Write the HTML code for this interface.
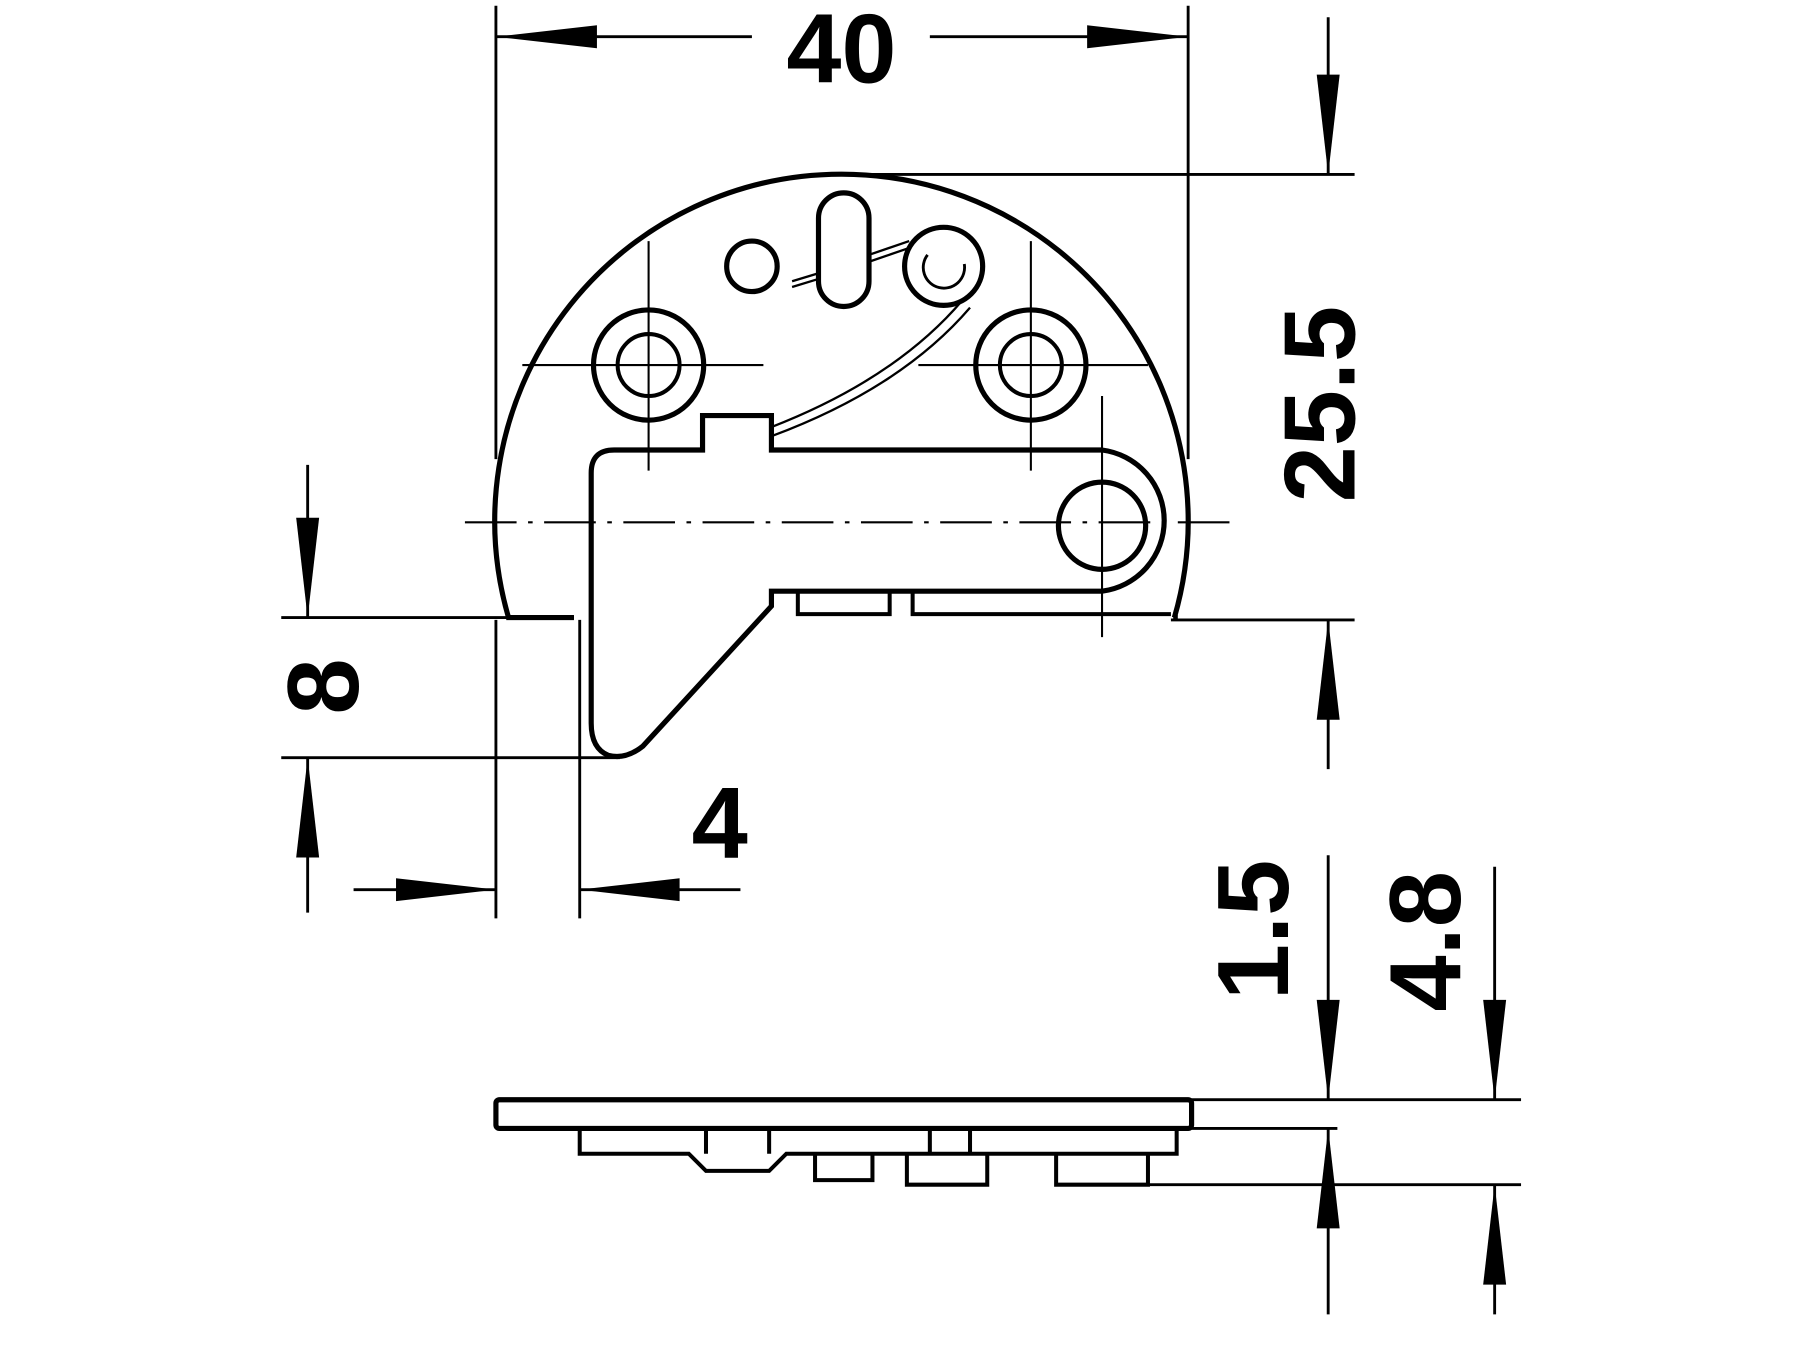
<!DOCTYPE html>
<html><head><meta charset="utf-8"><style>
html,body{margin:0;padding:0;background:#fff;width:1800px;height:1350px;overflow:hidden}
svg{display:block}
text{font-family:"Liberation Sans",sans-serif;font-weight:bold;fill:#000}
</style></head><body>
<svg width="1800" height="1350" viewBox="0 0 1568 1176" xmlns="http://www.w3.org/2000/svg">
<g stroke="#000" stroke-width="2.5" fill="none">
<line x1="432" y1="5" x2="432" y2="400"/>
<line x1="1035" y1="5" x2="1035" y2="400"/>
<line x1="432" y1="32" x2="655" y2="32"/>
<line x1="810" y1="32" x2="1035" y2="32"/>
<line x1="720" y1="152" x2="1180" y2="152"/>
<line x1="1157" y1="15" x2="1157" y2="152"/>
<line x1="1020" y1="540" x2="1180" y2="540"/>
<line x1="1157" y1="540" x2="1157" y2="670"/>
<line x1="245" y1="538" x2="500" y2="538"/>
<line x1="245" y1="660" x2="540" y2="660"/>
<line x1="268" y1="405" x2="268" y2="538"/>
<line x1="268" y1="660" x2="268" y2="795"/>
<line x1="432" y1="540" x2="432" y2="800"/>
<line x1="505" y1="540" x2="505" y2="800"/>
<line x1="308" y1="775" x2="432" y2="775"/>
<line x1="505" y1="775" x2="645" y2="775"/>
<path d="M443 538 A302 302 0 1 1 1023 538" stroke-width="4.5"/>
<line x1="441" y1="538" x2="500" y2="538" stroke-width="4.5"/>
<line x1="1022" y1="538" x2="1026" y2="538" stroke-width="4.5"/>
<path d="M535 392 L612 392 L612 362 L672 362 L672 392 L960 392 A62 62 0 0 1 960 515 L672 515 L672 528 L560 650 Q545 662 530 658 Q515 652 515 630 L515 412 Q515 392 535 392 Z" stroke-width="4.5"/>
<path d="M695 515 V535 H775 V515 M795 515 V535 H1020" stroke-width="3.5"/>
<circle cx="960" cy="458" r="38" stroke-width="4.5"/>
<circle cx="565" cy="318" r="48" stroke-width="4.5"/><circle cx="565" cy="318" r="27" stroke-width="3.5"/>
<circle cx="898" cy="318" r="48" stroke-width="4.5"/><circle cx="898" cy="318" r="27" stroke-width="3.5"/>
<circle cx="655" cy="232" r="22" stroke-width="4.5"/>
<path d="M713 190 A22 22 0 0 1 757 190 V245 A22 22 0 0 1 713 245 Z" stroke-width="4.5"/>
<circle cx="822" cy="232" r="34" stroke-width="4.5"/>
<path d="M808 222 A18 18 0 1 0 840 230" stroke-width="2.5"/>
<path d="M690 245 L713 238 M690 250 L713 243 M757 222 L792 210 M757 228 L792 216" stroke-width="2"/>
<path d="M672 372 Q780 330 838 262 M672 380 Q785 338 845 268" stroke-width="2"/>
<path d="M565 210 V410 M898 210 V410 M455 318 H665 M800 318 H1000 M960 345 V555" stroke-width="1.8"/>
<line x1="405" y1="455" x2="1075" y2="455" stroke-width="1.8" stroke-dasharray="45 10 4 10"/>
<rect x="432" y="958" width="606" height="25" stroke-width="4.5" rx="3"/>
<path d="M505 983 V1005 H600 L615 1020 H670 L685 1005 H1025 V983" stroke-width="3.5"/>
<path d="M615 983 V1005 M670 983 V1005 M710 1005 V1028 H760 V1005 M790 1005 V1032 H860 V1005 M920 1005 V1032 H1000 V1005 M810 983 V1005 M845 983 V1005" stroke-width="3.5"/>
<line x1="1038" y1="958" x2="1325" y2="958"/>
<line x1="1038" y1="983" x2="1165" y2="983"/>
<line x1="1000" y1="1032" x2="1325" y2="1032"/>
<line x1="1157" y1="745" x2="1157" y2="958"/>
<line x1="1157" y1="983" x2="1157" y2="1145"/>
<line x1="1302" y1="755" x2="1302" y2="958"/>
<line x1="1302" y1="1032" x2="1302" y2="1145"/>
</g>
<g fill="#000">
<polygon points="432,32 520,22 520,42"/>
<polygon points="1035,32 947,22 947,42"/>
<polygon points="1157,152 1147,65 1167,65"/>
<polygon points="1157,540 1147,627 1167,627"/>
<polygon points="268,538 258,451 278,451"/>
<polygon points="268,660 258,747 278,747"/>
<polygon points="432,775 345,765 345,785"/>
<polygon points="505,775 592,765 592,785"/>
<polygon points="1157,958 1147,871 1167,871"/>
<polygon points="1157,983 1147,1070 1167,1070"/>
<polygon points="1302,958 1292,871 1312,871"/>
<polygon points="1302,1032 1292,1119 1312,1119"/>
</g>
<text x="733" y="72" font-size="86" text-anchor="middle">40</text>
<text transform="translate(1180,352) rotate(-90)" font-size="88" text-anchor="middle">25.5</text>
<text transform="translate(312,598) rotate(-90)" font-size="88" text-anchor="middle">8</text>
<text x="627" y="747" font-size="88" text-anchor="middle">4</text>
<text transform="translate(1122,810) rotate(-90)" font-size="88" text-anchor="middle">1.5</text>
<text transform="translate(1272,820) rotate(-90)" font-size="88" text-anchor="middle">4.8</text>
</svg>
</body></html>
